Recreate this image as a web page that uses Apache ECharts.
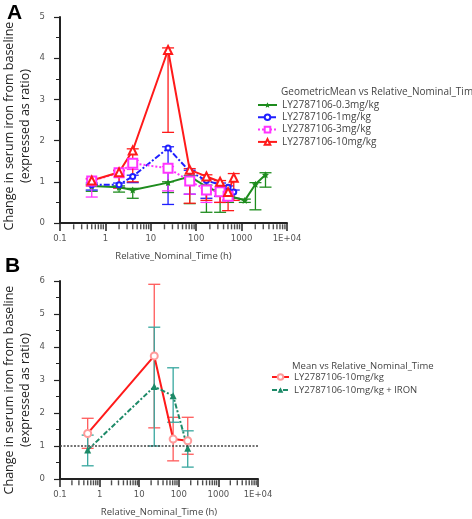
<!DOCTYPE html>
<html>
<head>
<meta charset="utf-8">
<script src="https://cdn.jsdelivr.net/npm/echarts@6/dist/echarts.min.js"></script>
<style>html,body{margin:0;padding:0;background:#fff}#c{width:472px;height:519px}</style>
</head>
<body>
<div id="c"></div>
<script>
// ---------- Panel A data ----------
const tGreenA = [0.5, 2, 4, 24, 72, 168, 336, 504, 1176, 2016, 3360];
const vGreenA = [0.9, 0.87, 0.8, 0.98, 1.13, 0.88, 0.73, 0.66, 0.55, 0.94, 1.17];
const loGreenA = [0.77, 0.75, 0.6, 0.74, 0.47, 0.26, 0.26, 0.5, 0.5, 0.32, 0.87];
const hiGreenA = [0.93, 0.9, 0.84, 1.0, 1.15, 0.92, 0.78, 0.7, 0.58, 0.98, 1.22];

const tBlueA = [0.5, 2, 4, 24, 72, 168, 336, 504, 672];
const vBlueA = [0.93, 0.93, 1.13, 1.82, 1.25, 1.03, 0.93, 0.87, 0.75];
const loBlueA = [0.8, 0.86, 0.98, 0.45, 0.7, 0.6, 0.65, 0.55, 0.6];
const hiBlueA = [0.97, 0.97, 1.16, 1.85, 1.28, 1.07, 0.97, 0.9, 0.8];

const tMagA = [0.5, 2, 4, 24, 72, 168, 336, 504];
const vMagA = [1.02, 1.22, 1.45, 1.33, 1.02, 0.8, 0.76, 0.65];
const loMagA = [0.63, 0.85, 1.3, 0.78, 0.7, 0.5, 0.5, 0.55];
const hiMagA = [1.06, 1.26, 1.52, 1.37, 1.06, 0.85, 0.8, 0.7];

const tRedA = [0.5, 2, 4, 24, 72, 168, 336, 504, 672];
const vRedA = [1.03, 1.23, 1.76, 4.2, 1.29, 1.13, 1.0, 0.75, 1.1];
const loRedA = [0.9, 0.85, 1.0, 2.2, 0.48, 0.55, 0.5, 0.3, 0.55];
const hiRedA = [1.08, 1.28, 1.8, 4.25, 1.32, 1.17, 1.03, 0.78, 1.2];

// ---------- Panel B data ----------
const tRedB = [0.5, 24, 72, 168];
const vRedB = [1.38, 3.73, 1.21, 1.16];
const loRedB = [0.93, 1.55, 0.55, 0.75];
const hiRedB = [1.84, 5.9, 1.87, 1.87];

const tIronB = [0.5, 24, 72, 168];
const vIronB = [0.88, 2.8, 2.52, 0.93];
const loIronB = [0.4, 1.0, 1.72, 0.36];
const hiIronB = [1.33, 4.6, 3.37, 1.46];

// ---------- labels / ticks ----------
const namesA = ['LY2787106-0.3mg/kg', 'LY2787106-1mg/kg', 'LY2787106-3mg/kg', 'LY2787106-10mg/kg'];
const namesB = ['LY2787106-10mg/kg', 'LY2787106-10mg/kg + IRON'];
const legendTitleA = 'GeometricMean vs Relative_Nominal_Time';
const legendTitleB = 'Mean vs Relative_Nominal_Time';
const yTitle = 'Change in serum iron from baseline\n(expressed as ratio)';
const xTitle = 'Relative_Nominal_Time (h)';
const xMajorLabels = {'-1': '0.1', '0': '1', '1': '10', '2': '100', '3': '1000', '4': '1E+04'};
const xMinorTicks = [0.2,0.3,0.4,0.5,0.6,0.7,0.8,0.9, 2,3,4,5,6,7,8,9, 20,30,40,50,60,70,80,90,
                     200,300,400,500,600,700,800,900, 2000,3000,4000,5000,6000,7000,8000,9000];
const refLineB = 1;

const zip2 = (a, b) => a.map((x, i) => [x, b[i]]);
const zip3 = (a, b, c) => a.map((x, i) => [x, b[i], c[i]]);

const tickFont = 'DejaVu Sans';
const txtFont = 'Open Sans';

function errRender(color, capW, lw) {
  return function (params, api) {
    const x = api.value(0), lo = api.value(1), hi = api.value(2);
    const p1 = api.coord([x, hi]), p2 = api.coord([x, lo]);
    const style = {stroke: color, lineWidth: lw, fill: null};
    return {type: 'group', children: [
      {type: 'line', shape: {x1: p1[0], y1: p1[1], x2: p2[0], y2: p2[1]}, style},
      {type: 'line', shape: {x1: p1[0] - capW, y1: p1[1], x2: p1[0] + capW, y2: p1[1]}, style},
      {type: 'line', shape: {x1: p2[0] - capW, y1: p2[1], x2: p2[0] + capW, y2: p2[1]}, style}
    ]};
  };
}
function errSeries(name, idx, data, color, capW) {
  return {name, type: 'custom', xAxisIndex: idx, yAxisIndex: idx, data, z: 1,
          renderItem: errRender(color, capW, 1.3), encode: {x: 0, y: [1, 2]}, clip: false, silent: true};
}
function minorSeries(idx) {
  return {name: 'minor' + idx, type: 'scatter', xAxisIndex: idx, yAxisIndex: idx,
          data: xMinorTicks.map(v => [v, 0]), symbol: 'rect', symbolSize: [1.4, 5], symbolOffset: [0, 3.8],
          itemStyle: {color: '#222'}, clip: false, z: 6};
}

function xAxis(idx) {
  return {
    type: 'log', logBase: 10, min: 0.1, max: 10000, gridIndex: idx,
    name: xTitle, nameLocation: 'middle', nameGap: 28,
    nameTextStyle: {fontFamily: txtFont, fontSize: 9.5, color: '#444'},
    axisLine: {lineStyle: {color: '#222', width: 2}},
    axisTick: {length: 8, lineStyle: {color: '#222', width: 1.5}},
    axisLabel: {fontFamily: tickFont, fontSize: 8.5, color: '#555', margin: 11,
      formatter: v => xMajorLabels[String(Math.round(Math.log10(v)))] || ''},
    splitLine: {show: false}, minorTick: {show: false}
  };
}
function yAxis(idx, max, shift) {
  return {
    type: 'value', min: 0, max, interval: 1, gridIndex: idx,
    name: yTitle, nameLocation: 'middle', nameGap: 27, nameRotate: 90,
    nameTextStyle: {fontFamily: txtFont, fontSize: 12.5, color: '#222', lineHeight: 16, padding: [0, shift, 0, 0]},
    axisLine: {show: true, lineStyle: {color: '#222', width: 2}},
    axisTick: {show: true, length: 6, lineStyle: {color: '#222', width: 1.2}},
    minorTick: {show: true, splitNumber: 2, length: 4, lineStyle: {color: '#222', width: 1}},
    axisLabel: {fontFamily: tickFont, fontSize: 8.5, color: '#555', margin: 15},
    splitLine: {show: false}
  };
}

const cG = '#1e8c1e', cB = '#1f1fff', cM = '#ff33ff', cR = '#ff1a1a';
const cT = '#37a79f', cTl = '#1d8a68';
const starPath = 'path://M0,-10 L2.9,-4 L9.5,-3.1 L4.7,1.5 L5.9,8.1 L0,5 L-5.9,8.1 L-4.7,1.5 L-9.5,-3.1 L-2.9,-4 Z';

const option = {
  animation: false,
  backgroundColor: '#fff',
  title: [
    {text: 'A', left: 7, top: 3, padding: 0, textStyle: {fontFamily: 'Liberation Sans', fontSize: 21, fontWeight: 'bold', color: '#000'}},
    {text: 'B', left: 5, top: 256, padding: 0, textStyle: {fontFamily: 'Liberation Sans', fontSize: 21, fontWeight: 'bold', color: '#000'}},
    {text: legendTitleA, left: 281, top: 87, padding: 0, textStyle: {fontFamily: txtFont, fontSize: 10, fontWeight: 'normal', color: '#444'}},
    {text: legendTitleB, left: 292, top: 361, padding: 0, textStyle: {fontFamily: txtFont, fontSize: 9.5, fontWeight: 'normal', color: '#444'}}
  ],
  legend: [
    {data: namesA, left: 257, top: 100, orient: 'vertical', itemWidth: 19, itemHeight: 7, itemGap: 2.3, padding: 0,
     textStyle: {fontFamily: txtFont, fontSize: 10, color: '#444'}, selectedMode: false},
    {data: namesB.map(n => n + ' '), left: 271, top: 372, orient: 'vertical', itemWidth: 17, itemHeight: 7, itemGap: 3, padding: 0,
     textStyle: {fontFamily: txtFont, fontSize: 9.5, color: '#444'}, selectedMode: false,
     formatter: n => n.trim()}
  ],
  grid: [
    {left: 60, top: 17, width: 227, height: 206},
    {left: 59, top: 281, width: 199, height: 198}
  ],
  xAxis: [xAxis(0), xAxis(1)],
  yAxis: [yAxis(0, 5, 12), yAxis(1, 6, 20)],
  series: [
    minorSeries(0),
    minorSeries(1),
    // error bars A
    errSeries('eG', 0, zip3(tGreenA, loGreenA, hiGreenA), cG, 6),
    errSeries('eB', 0, zip3(tBlueA, loBlueA, hiBlueA), cB, 6),
    errSeries('eM', 0, zip3(tMagA, loMagA, hiMagA), cM, 6),
    errSeries('eR', 0, zip3(tRedA, loRedA, hiRedA), cR, 6),
    // lines A
    {name: namesA[0], type: 'line', xAxisIndex: 0, yAxisIndex: 0, data: zip2(tGreenA, vGreenA), z: 3,
     symbol: starPath, symbolSize: 7, itemStyle: {color: cG}, lineStyle: {color: cG, width: 2}},
    {name: namesA[1], type: 'line', xAxisIndex: 0, yAxisIndex: 0, data: zip2(tBlueA, vBlueA), z: 3,
     symbol: 'emptyCircle', symbolSize: 5, itemStyle: {color: cB, borderWidth: 1.5}, lineStyle: {color: cB, width: 2, type: [6, 2, 2, 2]}},
    {name: namesA[2], type: 'line', xAxisIndex: 0, yAxisIndex: 0, data: zip2(tMagA, vMagA), z: 3,
     symbol: 'emptyRect', symbolSize: 9, itemStyle: {color: cM, borderWidth: 1.3}, lineStyle: {color: cM, width: 2, type: [2, 2]}},
    {name: namesA[3], type: 'line', xAxisIndex: 0, yAxisIndex: 0, data: zip2(tRedA, vRedA), z: 3,
     symbol: 'emptyTriangle', symbolSize: 8, itemStyle: {color: cR, borderWidth: 1.3}, lineStyle: {color: cR, width: 2}},
    // error bars B
    errSeries('eRB', 1, zip3(tRedB, loRedB, hiRedB), '#ff5a5a', 6),
    errSeries('eTB', 1, zip3(tIronB, loIronB, hiIronB), cT, 6),
    // lines B
    {name: namesB[0] + ' ', type: 'line', xAxisIndex: 1, yAxisIndex: 1, data: zip2(tRedB, vRedB), z: 3,
     symbol: 'emptyCircle', symbolSize: 7, itemStyle: {color: '#ff9a9a', borderWidth: 1.3}, lineStyle: {color: cR, width: 2},
     markLine: {silent: true, symbol: 'none', label: {show: false},
       lineStyle: {color: '#444', width: 1.5, type: [2, 1.5]}, data: [{yAxis: refLineB}]}},
    {name: namesB[1] + ' ', type: 'line', xAxisIndex: 1, yAxisIndex: 1, data: zip2(tIronB, vIronB), z: 3,
     symbol: 'triangle', symbolSize: 7, itemStyle: {color: cTl}, lineStyle: {color: cTl, width: 2, type: [5, 2, 2, 2]}}
  ]
};
const chart = echarts.init(document.getElementById('c'), null, {renderer: 'canvas'});
chart.setOption(option);
</script>
</body>
</html>
